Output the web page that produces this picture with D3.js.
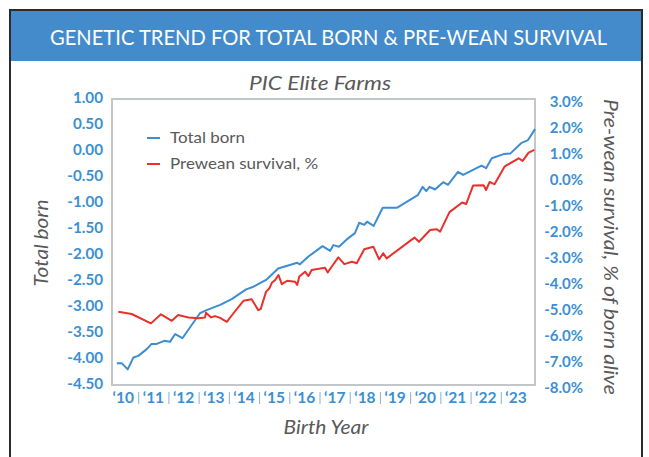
<!DOCTYPE html>
<html>
<head>
<meta charset="utf-8">
<script src="https://cdnjs.cloudflare.com/ajax/libs/d3/7.8.5/d3.min.js"></script>
<style>
  html, body { margin: 0; padding: 0; background: #fff; }
  svg { display: block; }
</style>
</head>
<body>
<script>
// ---- Data ----
const tbYears = [2010.16, 2010.32, 2010.52, 2010.71, 2010.87, 2011.15, 2011.31, 2011.48, 2011.73, 2011.92,
  2012.09, 2012.33, 2012.91, 2013.13, 2013.58, 2013.96, 2014.44, 2014.68, 2015.10, 2015.50,
  2016.13, 2016.22, 2016.50, 2016.97, 2017.22, 2017.33, 2017.51, 2017.77, 2018.04, 2018.18,
  2018.35, 2018.44, 2018.66, 2018.96, 2019.44, 2020.12, 2020.28, 2020.40, 2020.51, 2020.69,
  2020.96, 2021.12, 2021.45, 2021.62, 2022.23, 2022.38, 2022.57, 2022.96, 2023.18, 2023.54,
  2023.77, 2024.00];
const totalBorn = [-4.08, -4.08, -4.20, -3.97, -3.94, -3.81, -3.71, -3.71, -3.65, -3.67,
  -3.52, -3.60, -3.12, -3.06, -2.96, -2.85, -2.66, -2.61, -2.48, -2.26,
  -2.15, -2.18, -2.03, -1.83, -1.92, -1.81, -1.84, -1.70, -1.58, -1.38,
  -1.42, -1.36, -1.44, -1.09, -1.09, -0.85, -0.69, -0.77, -0.69, -0.74,
  -0.60, -0.65, -0.40, -0.46, -0.28, -0.33, -0.14, -0.06, -0.05, 0.15,
  0.21, 0.42];

const pwYears = [2010.21, 2010.65, 2011.29, 2011.62, 2011.98, 2012.19, 2012.53, 2012.86, 2013.08, 2013.11,
  2013.28, 2013.41, 2013.58, 2013.80, 2014.02, 2014.35, 2014.62, 2014.84, 2014.92, 2015.10,
  2015.21, 2015.29, 2015.40, 2015.51, 2015.62, 2015.80, 2016.06, 2016.13, 2016.20, 2016.39,
  2016.50, 2016.61, 2017.05, 2017.14, 2017.27, 2017.49, 2017.69, 2017.94, 2018.10, 2018.35,
  2018.65, 2018.84, 2018.98, 2019.09, 2020.01, 2020.16, 2020.53, 2020.75, 2020.86, 2021.17,
  2021.59, 2021.72, 2021.95, 2022.30, 2022.38, 2022.50, 2022.66, 2023.00, 2023.46, 2023.59,
  2023.79, 2023.98];
const preweanSurvival = [-5.18, -5.27, -5.63, -5.28, -5.53, -5.31, -5.40, -5.43, -5.40, -5.22,
  -5.40, -5.35, -5.42, -5.57, -5.24, -4.76, -4.70, -5.12, -5.08, -4.41,
  -4.28, -4.07, -3.96, -3.77, -4.12, -3.99, -4.03, -4.15, -3.83, -3.64,
  -3.81, -3.58, -3.49, -3.67, -3.45, -3.09, -3.35, -3.26, -3.32, -2.78,
  -2.68, -3.17, -2.93, -3.13, -2.33, -2.49, -2.04, -2.01, -2.10, -1.35,
  -0.98, -1.04, -0.33, -0.32, -0.50, -0.19, -0.28, 0.41, 0.72, 0.62,
  0.94, 1.04];

const yearTicks = [2010, 2011, 2012, 2013, 2014, 2015, 2016, 2017, 2018, 2019, 2020, 2021, 2022, 2023];
const leftTicks = [1.0, 0.5, 0.0, -0.5, -1.0, -1.5, -2.0, -2.5, -3.0, -3.5, -4.0, -4.5];
const rightTicks = [3, 2, 1, 0, -1, -2, -3, -4, -5, -6, -7, -8];

const titleText = "GENETIC TREND FOR TOTAL BORN & PRE-WEAN SURVIVAL";
const subtitleText = "PIC Elite Farms";
const leftTitle = "Total born";
const rightTitle = "Pre-wean survival, % of born alive";
const xTitle = "Birth Year";
const seriesNames = ["Total born", "Prewean survival, %"];

// ---- Layout ----
const W = 649, H = 457;
const plot = { left: 112, right: 535, top: 99, bottom: 385 };
const blue = "#3d8dd3", red = "#e8312b", labelBlue = "#3b8fd4", gray = "#595959";
const FONT = "Lato, 'Open Sans', sans-serif";

const svg = d3.select("body").append("svg").attr("width", W).attr("height", H)
  .style("font-family", FONT);

// outer frame
svg.append("rect").attr("x", 10).attr("y", 10).attr("width", 632).attr("height", 470)
  .attr("fill", "#fff").attr("stroke", "#2b2b2b").attr("stroke-width", 2);
// header bar
svg.append("rect").attr("x", 11).attr("y", 11).attr("width", 630).attr("height", 50)
  .attr("fill", "#438bcb");
svg.append("text").attr("x", 50).attr("y", 45).attr("fill", "#fff")
  .attr("font-size", 21).attr("textLength", 557).attr("lengthAdjust", "spacingAndGlyphs")
  .text(titleText);

svg.append("text").attr("x", 320).attr("y", 90).attr("text-anchor", "middle")
  .attr("font-size", 19).attr("font-style", "italic").attr("fill", gray)
  .attr("textLength", 142).attr("lengthAdjust", "spacingAndGlyphs").text(subtitleText);

// scales
const x = d3.scaleLinear().domain([2010, 2024]).range([plot.left, plot.right]);
const yL = d3.scaleLinear().domain([-4.5, 1]).range([plot.bottom, plot.top]);
const yR = d3.scaleLinear().domain([-8, 3]).range([plot.bottom, plot.top]);

// plot box
svg.append("rect").attr("x", plot.left).attr("y", plot.top)
  .attr("width", plot.right - plot.left).attr("height", plot.bottom - plot.top)
  .attr("fill", "none").attr("stroke", "#c3c7c9").attr("stroke-width", 2);

// left axis
const gL = svg.append("g").attr("transform", `translate(${plot.left},-1)`)
  .call(d3.axisLeft(yL).tickValues(leftTicks).tickSize(0).tickPadding(9)
    .tickFormat(d => d.toFixed(2)));
gL.select(".domain").remove();
gL.selectAll("text").attr("fill", labelBlue).attr("font-size", 15.2).attr("font-weight", "bold")
  .style("font-family", FONT);

// right axis
const gR = svg.append("g").attr("transform", `translate(${plot.right},3)`)
  .call(d3.axisRight(yR).tickValues(rightTicks).tickSize(0).tickPadding(9)
    .tickFormat(d => d.toFixed(1) + "%"));
gR.select(".domain").remove();
gR.selectAll("text").attr("fill", labelBlue).attr("font-size", 15).attr("font-weight", "bold")
  .attr("text-anchor", "end").attr("x", 48).style("font-family", FONT);

// bottom axis
const gB = svg.append("g").attr("transform", `translate(0,${plot.bottom})`)
  .call(d3.axisBottom(x).tickValues(yearTicks).tickSize(0).tickPadding(7)
    .tickFormat(d => "\u2018" + String(d).slice(2)));
gB.select(".domain").remove();
gB.selectAll("text").attr("fill", labelBlue).attr("font-size", 15.5).attr("font-weight", "bold")
  .attr("text-anchor", "start").attr("x", 0).style("font-family", FONT);
// separators between year labels
svg.append("g").selectAll("line").data(yearTicks.slice(1)).join("line")
  .attr("x1", d => x(d) - 3.5).attr("x2", d => x(d) - 3.5)
  .attr("y1", 392).attr("y2", 404)
  .attr("stroke", "#8aaed3").attr("stroke-width", 1);

// axis titles
svg.append("text").attr("transform", `translate(48,243) rotate(-90)`)
  .attr("text-anchor", "middle").attr("font-size", 19).attr("font-style", "italic")
  .attr("fill", gray).attr("textLength", 87).attr("lengthAdjust", "spacingAndGlyphs").text(leftTitle);
svg.append("text").attr("transform", `translate(604,247) rotate(90)`)
  .attr("text-anchor", "middle").attr("font-size", 19).attr("font-style", "italic")
  .attr("fill", gray).attr("textLength", 296).attr("lengthAdjust", "spacingAndGlyphs")
  .text(rightTitle);
svg.append("text").attr("x", 326).attr("y", 434).attr("text-anchor", "middle")
  .attr("font-size", 19).attr("font-style", "italic").attr("fill", gray)
  .attr("textLength", 85).attr("lengthAdjust", "spacingAndGlyphs").text(xTitle);

// lines
const tbData = tbYears.map((t, i) => [t, totalBorn[i]]);
const pwData = pwYears.map((t, i) => [t, preweanSurvival[i]]);
svg.append("path").datum(tbData).attr("fill", "none").attr("stroke", blue).attr("stroke-width", 2)
  .attr("stroke-linejoin", "round")
  .attr("d", d3.line().x(d => x(d[0])).y(d => yL(d[1])));
svg.append("path").datum(pwData).attr("fill", "none").attr("stroke", red).attr("stroke-width", 2)
  .attr("stroke-linejoin", "round")
  .attr("d", d3.line().x(d => x(d[0])).y(d => yR(d[1])));

// legend
const legend = svg.append("g");
const legColors = [blue, red];
const legWidths = [75, 148];
seriesNames.forEach((name, i) => {
  const yy = 138 + i * 26;
  legend.append("line").attr("x1", 147).attr("x2", 160).attr("y1", yy).attr("y2", yy)
    .attr("stroke", legColors[i]).attr("stroke-width", 2);
  legend.append("text").attr("x", 170).attr("y", yy + 5).attr("font-size", 16)
    .attr("fill", gray).attr("textLength", legWidths[i]).attr("lengthAdjust", "spacingAndGlyphs")
    .text(name);
});
</script>
</body>
</html>
